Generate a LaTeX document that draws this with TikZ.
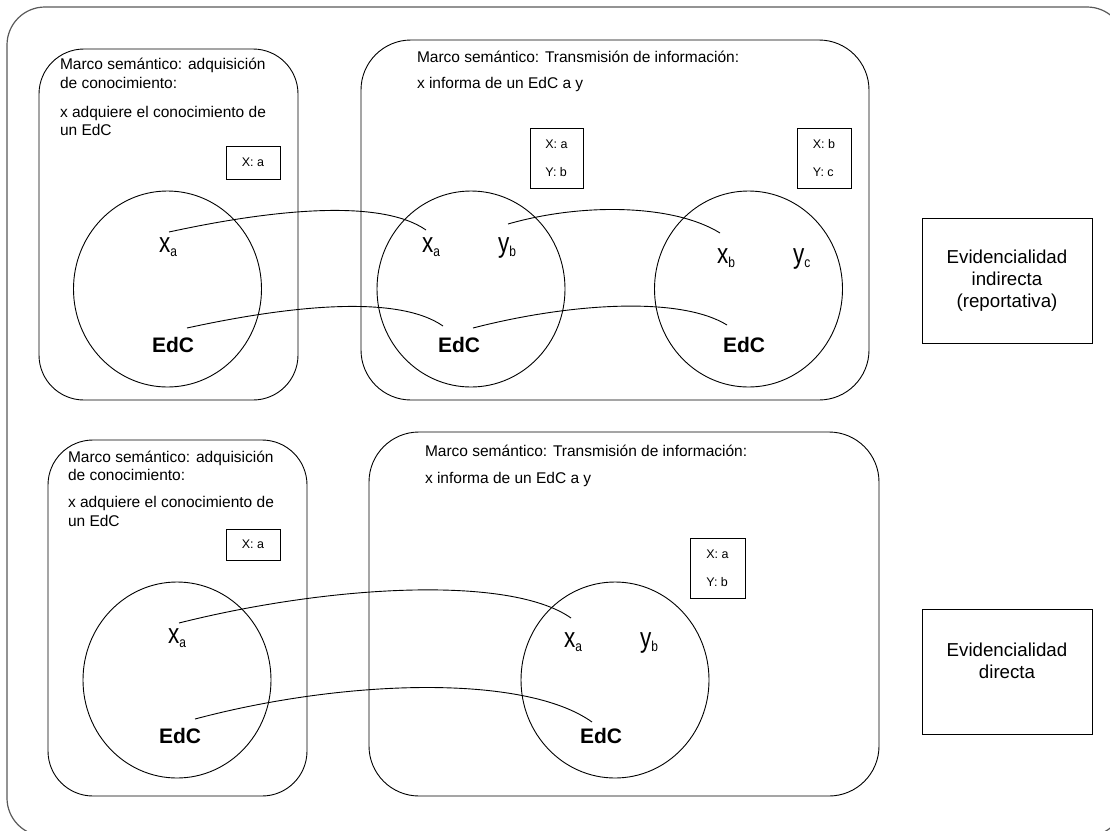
\documentclass[tikz,border=0pt]{standalone}
\usepackage{fontspec}
\setmainfont{Liberation Sans}
\usepackage{graphicx}
\usetikzlibrary{shapes.geometric}
\newcommand{\VarSub}[2]{{\fontsize{22.5}{24}\selectfont\scalebox{1}[1.25]{#1}}\raisebox{-4pt}{\fontsize{12}{12}\selectfont\scalebox{1}[1.2]{#2}}}
\begin{document}
\begin{tikzpicture}[x=1pt,y=-1pt,
  frameA/.style={draw, line width=0.9pt, rounded corners=45pt, inner sep=0pt},
  frameB/.style={draw, line width=0.9pt, rounded corners=50pt, inner sep=0pt},
  circ/.style={draw, ellipse, line width=0.9pt, minimum width=188pt, minimum height=196pt, inner sep=0pt},
  tag/.style={draw, line width=0.9pt, inner sep=0pt, align=left, font=\fontsize{12.5}{28}\selectfont},
  evid/.style={draw, line width=0.9pt, inner sep=0pt, minimum width=170pt, minimum height=125pt, align=center, font=\fontsize{18.7}{22}\selectfont},
  ln/.style={anchor=base west, inner sep=0pt, outer sep=0pt, font=\fontsize{15.5}{18}\selectfont},
  edc/.style={anchor=base west, inner sep=0pt, outer sep=0pt, font=\fontsize{21}{24}\selectfont\bfseries},
  var/.style={anchor=base west, inner sep=0pt, outer sep=0pt},
  link/.style={draw, line width=0.9pt}
]
\useasboundingbox (0,0) rectangle (1110,830);
\clip (0,0) rectangle (1110,830);
% outer frame
\draw[black!65, line width=1.2pt, rounded corners=38pt] (7,7) rectangle (1125,836);

% ---------- top row ----------
\node[frameA, minimum width=259pt, minimum height=351pt] (mk1) at (168.5,224.5) {};
\node[frameB, minimum width=508pt, minimum height=360pt] (mk2) at (615,220) {};

\node[ln] (t1a) at (60,69) {Marco semántico: adquisición};
\node[ln] (t1b) at (60,88) {de conocimiento:};
\node[ln] (t1c) at (60,117) {x adquiere el conocimiento de};
\node[ln] (t1d) at (60,135) {un EdC};

\node[ln] (t2a) at (417,62) {Marco semántico: Transmisión de información:};
\node[ln] (t2b) at (417,88) {x informa de un EdC a y};

\node[tag, minimum width=54pt, minimum height=33pt] (b1) at (253,162.5) {X: a};
\node[tag, minimum width=53pt, minimum height=60pt] (b2) at (556.5,158) {X: a\\Y: b};
\node[tag, minimum width=54pt, minimum height=60pt] (b3) at (824,158) {X: b\\Y: c};

\node[circ] (c1) at (167.5,289) {};
\node[circ] (c2) at (471,289) {};
\node[circ] (c3) at (748.5,289) {};

\node[var] (x1) at (159,252) {\VarSub{x}{a}};
\node[var] (x2) at (422,252) {\VarSub{x}{a}};
\node[var] (y2) at (498,252) {\VarSub{y}{b}};
\node[var] (x3) at (717,263) {\VarSub{x}{b}};
\node[var] (y3) at (793,263) {\VarSub{y}{c}};

\node[edc] (d1) at (152,352) {EdC};
\node[edc] (d2) at (438,352) {EdC};
\node[edc] (d3) at (723,352) {EdC};

\node[evid] (e1) at (1007,280.5) {Evidencialidad\\indirecta\\(reportativa)};

\coordinate (p1s) at (169,232);
\coordinate (p1e) at (426,230);
\coordinate (p2s) at (187,328);
\coordinate (p2e) at (443,326);
\coordinate (p3s) at (508,224);
\coordinate (p3e) at (720,233);
\coordinate (p4s) at (473,328);
\coordinate (p4e) at (727,325);
\draw[link] (p1s) .. controls (270,210) and (380,198) .. (p1e);
\draw[link] (p2s) .. controls (288,306) and (397,294) .. (p2e);
\draw[link] (p3s) .. controls (585,202) and (675,205) .. (p3e);
\draw[link] (p4s) .. controls (570,303) and (680,296) .. (p4e);

% ---------- bottom row ----------
\node[frameA, minimum width=259pt, minimum height=356pt] (mk3) at (177.5,618) {};
\node[frameB, minimum width=510pt, minimum height=364pt] (mk4) at (624,614) {};

\node[ln] (t3a) at (68,462) {Marco semántico: adquisición};
\node[ln] (t3b) at (68,480) {de conocimiento:};
\node[ln] (t3c) at (68,507) {x adquiere el conocimiento de};
\node[ln] (t3d) at (68,526) {un EdC};

\node[ln] (t4a) at (425,456) {Marco semántico: Transmisión de información:};
\node[ln] (t4b) at (425,483) {x informa de un EdC a y};

\node[tag, minimum width=54pt, minimum height=31pt] (b4) at (253,544.5) {X: a};
\node[tag, minimum width=55pt, minimum height=60pt] (b5) at (717.5,568) {X: a\\Y: b};

\node[circ] (c4) at (177,680) {};
\node[circ] (c5) at (615,680) {};

\node[var] (x4) at (168,643) {\VarSub{x}{a}};
\node[var] (x5) at (564,647) {\VarSub{x}{a}};
\node[var] (y5) at (640,647) {\VarSub{y}{b}};

\node[edc] (d4) at (159,743) {EdC};
\node[edc] (d5) at (580,743) {EdC};

\node[evid] (e2) at (1007,671.5) {Evidencialidad\\directa\\\mbox{}};

\coordinate (p5s) at (179,623);
\coordinate (p5e) at (571,618);
\coordinate (p6s) at (195,719);
\coordinate (p6e) at (592,722);
\draw[link] (p5s) .. controls (330,585) and (510,575) .. (p5e);
\draw[link] (p6s) .. controls (345,679) and (525,674) .. (p6e);
\end{tikzpicture}
\end{document}
